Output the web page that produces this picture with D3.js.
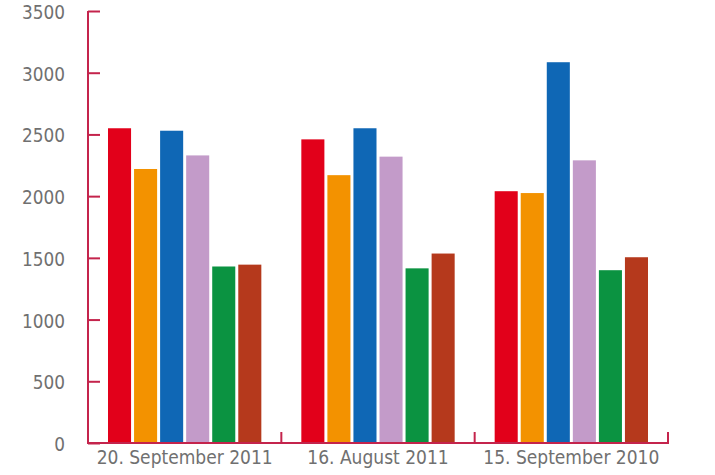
<!DOCTYPE html>
<html>
<head>
<meta charset="utf-8">
<script src="https://cdn.jsdelivr.net/npm/d3@7"></script>
<style>
  html, body { margin: 0; padding: 0; background: #fff; }
  svg { display: block; }
  text { font-family: "DejaVu Sans Condensed", "DejaVu Sans", sans-serif; font-stretch: condensed; fill: #707070; }
</style>
</head>
<body>
<div id="chart"></div>
<script>
const categories = ["20. September 2011", "16. August 2011", "15. September 2010"];
const seriesNames = ["s1", "s2", "s3", "s4", "s5", "s6"];
const seriesColors = ["#e2001a", "#f39200", "#0f67b5", "#c39bc9", "#0b9341", "#b5391c"];
const values = [
  [2550, 2220, 2530, 2330, 1430, 1445],
  [2460, 2170, 2550, 2320, 1415, 1535],
  [2040, 2025, 3085, 2290, 1400, 1505]
];
const yTicks = [0, 500, 1000, 1500, 2000, 2500, 3000, 3500];

const W = 715, H = 475;
const axisColor = "#c4244c";
const x0 = 88, x1 = 668, yBase = 443, yTop = 11;

const svg = d3.select("#chart").append("svg").attr("width", W).attr("height", H);

const x = d3.scaleBand().domain(categories).range([x0, x1]).paddingInner(0).paddingOuter(0);
const xInner = d3.scaleBand().domain(seriesNames).range([20, x.bandwidth() - 20]).paddingInner(0.115).paddingOuter(0);
const y = d3.scaleLinear().domain([0, 3500]).range([yBase, yTop]);

// bars
const groups = svg.append("g").selectAll("g").data(categories).join("g")
  .attr("transform", d => `translate(${x(d)},0)`);
groups.selectAll("rect")
  .data((d, i) => values[i].map((v, j) => ({ key: seriesNames[j], v, c: seriesColors[j] })))
  .join("rect")
  .attr("x", d => xInner(d.key))
  .attr("width", xInner.bandwidth())
  .attr("y", d => y(d.v))
  .attr("height", d => yBase - y(d.v))
  .attr("fill", d => d.c);

// y axis
const yAxis = d3.axisLeft(y).tickValues(yTicks).tickFormat(d3.format("d")).tickSize(-12).tickSizeOuter(0).tickPadding(23);
const gy = svg.append("g").attr("transform", `translate(${x0},0)`).call(yAxis);
gy.selectAll("path, line").attr("stroke", axisColor).attr("stroke-width", 2);
gy.select(".domain").attr("d", `M0,${yTop}V${yBase}`);
gy.selectAll("text").attr("font-size", 20).attr("fill", "#707070").attr("dy", "0.4em");

// x axis
const xAxis = d3.axisBottom(x).tickSize(0).tickSizeOuter(0).tickPadding(6);
const gx = svg.append("g").attr("transform", `translate(0,${yBase})`).call(xAxis);
gx.select(".domain").attr("stroke", axisColor).attr("stroke-width", 2).attr("d", `M${x0 - 1},0H${x1 + 1}`);
gx.selectAll("text").attr("font-size", 20).attr("fill", "#707070").attr("dy", "0.8em");
// separators between groups (upward ticks)
const seps = categories.slice(1).map(c => x(c)).concat([x1]);
gx.selectAll("line.sep").data(seps).join("line").attr("class", "sep")
  .attr("x1", d => d).attr("x2", d => d).attr("y1", 0).attr("y2", -11)
  .attr("stroke", axisColor).attr("stroke-width", 2);

// fit font sizes to the reference text widths
function fit(sel, node, target) {
  const w = node.getComputedTextLength();
  const fs = parseFloat(sel.attr("font-size"));
  sel.attr("font-size", (fs * target / w).toFixed(2));
}
const xt = gx.selectAll(".tick text");
fit(xt, xt.nodes()[0], 176);
const yt = gy.selectAll(".tick text");
fit(yt, yt.nodes()[3], 43);
</script>
</body>
</html>
